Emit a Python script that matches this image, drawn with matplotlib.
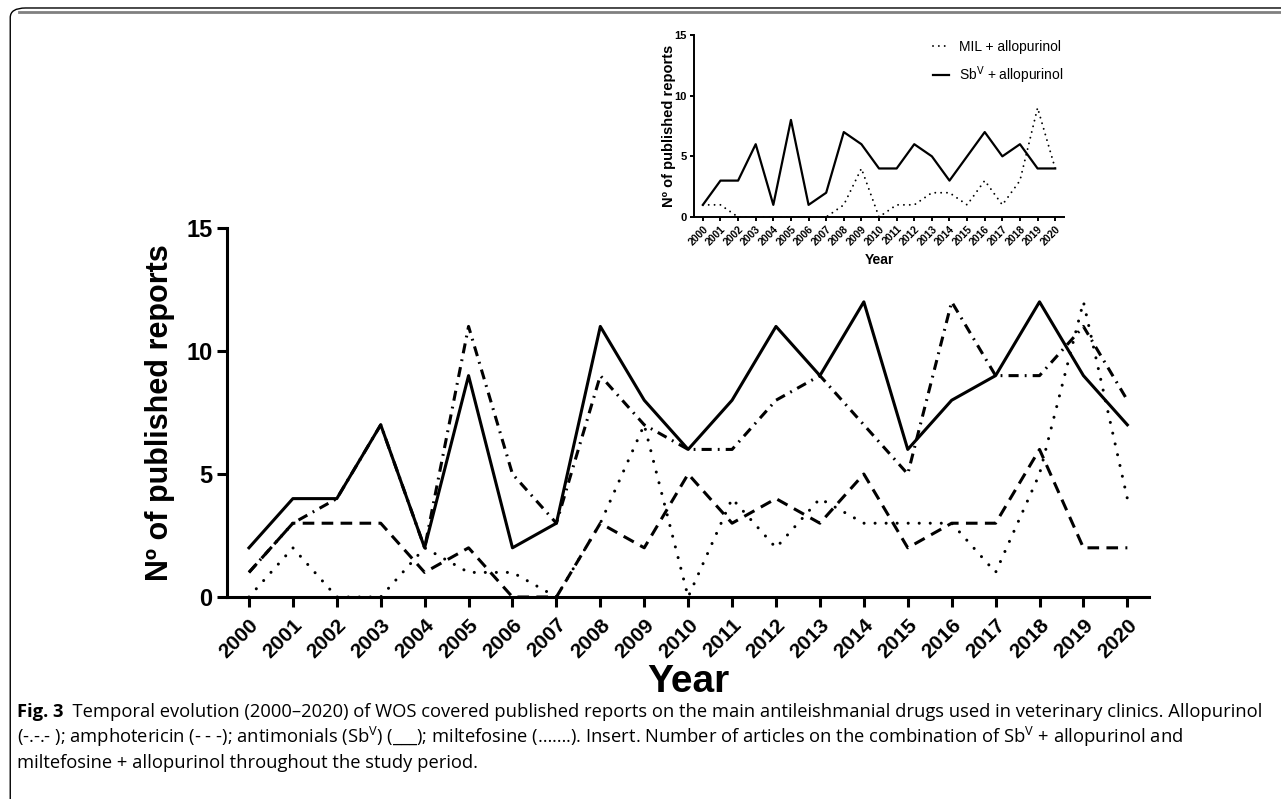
import matplotlib
matplotlib.use("Agg")
from matplotlib import pyplot as plt
from matplotlib.patches import FancyBboxPatch

plt.rcParams['font.family'] = ['Liberation Sans', 'DejaVu Sans']

# main chart data
years = list(range(2000, 2021))
allopurinol = [1, 3, 4, 7, 2, 11, 5, 3, 9, 7, 6, 6, 8, 9, 7, 5, 12, 9, 9, 11, 8]
amphotericin = [1, 3, 3, 3, 1, 2, 0, 0, 3, 2, 5, 3, 4, 3, 5, 2, 3, 3, 6, 2, 2]
antimonials = [2, 4, 4, 7, 2, 9, 2, 3, 11, 8, 6, 8, 11, 9, 12, 6, 8, 9, 12, 9, 7]
miltefosine = [0, 2, 0, 0, 2, 1, 1, 0, 3, 7, 0, 4, 2, 4, 3, 3, 3, 1, 5, 12, 4]

# insert data
mil_allo = [1, 1, 0, 0, 0, 0, 0, 0, 1, 4, 0, 1, 1, 2, 2, 1, 3, 1, 3, 9, 4]
sb_allo = [1, 3, 3, 6, 1, 8, 1, 2, 7, 6, 4, 4, 6, 5, 3, 5, 7, 5, 6, 4, 4]

yticks = [0, 5, 10, 15]


def style_axes(ax, lw, ticklen, fs_x, fs_y):
    ax.spines['top'].set_visible(False)
    ax.spines['right'].set_visible(False)
    ax.spines['left'].set_linewidth(lw)
    ax.spines['bottom'].set_linewidth(lw)
    ax.set_xlim(1999.5, 2020.5)
    ax.set_ylim(0, 15)
    ax.set_xticks(years)
    ax.set_xticklabels([str(y) for y in years], rotation=45, ha='right',
                       rotation_mode='anchor', fontweight='bold', fontsize=fs_x)
    ax.set_yticks(yticks)
    ax.set_yticklabels([str(y) for y in yticks], fontweight='bold', fontsize=fs_y)
    ax.tick_params(direction='out', length=ticklen, width=lw)


fig = plt.figure(figsize=(12.81, 7.99), dpi=100)

# frame of the figure panel
frame = FancyBboxPatch((0.008, -0.05), 1.2, 1.04, boxstyle="round,pad=0,rounding_size=0.012",
                       transform=fig.transFigure, fill=False, edgecolor='black', lw=1.0)
fig.patches.append(frame)
fig.add_artist(plt.Line2D([0.015, 1.0], [0.985, 0.985], transform=fig.transFigure,
                          color='#808080', lw=2.0))

ax = fig.add_axes([0.1772, 0.2528, 0.7200, 0.4618])
ax.plot(years, allopurinol, color='black', lw=2.2, linestyle=(0, (3.3, 2.0, 0.6, 2.0)))
ax.plot(years, amphotericin, color='black', lw=2.2, linestyle=(0, (3.8, 2.4)))
ax.plot(years, antimonials, color='black', lw=2.2, linestyle='-')
ax.plot(years, miltefosine, color='black', lw=2.2, linestyle=(0, (0.01, 3.6)),
        dash_capstyle='round')
style_axes(ax, 2.2, 7, 15, 17)
ax.tick_params(axis='x', pad=6)
ax.set_ylabel('Nº of published reports', fontsize=22, fontweight='bold', labelpad=8)
ax.set_xlabel('Year', fontsize=28, fontweight='bold', labelpad=2)

# insert
ax2 = fig.add_axes([0.5418, 0.7284, 0.2888, 0.2278])
ax2.plot(years, mil_allo, color='black', lw=1.4, linestyle=(0, (0.01, 3.0)),
         dash_capstyle='round', label='MIL + allopurinol')
ax2.plot(years, sb_allo, color='black', lw=1.6, label='Sb$^{\\mathrm{V}}$ + allopurinol')
style_axes(ax2, 1.4, 3, 7.5, 8)
ax2.tick_params(axis='x', pad=2)
ax2.tick_params(axis='y', pad=2)
ax2.set_ylabel('Nº of published reports', fontsize=10.5, fontweight='bold', labelpad=-1)
ax2.set_xlabel('Year', fontsize=10, fontweight='bold', labelpad=4)
ax2.legend(loc='upper left', frameon=False, fontsize=10, handlelength=1.15,
           handletextpad=0.75, borderpad=0, borderaxespad=0,
           bbox_to_anchor=(0.646, 0.975), labelspacing=0.8)

# caption
cfont = ['Open Sans', 'DejaVu Sans']
plt.rcParams['mathtext.fontset'] = 'custom'
plt.rcParams['mathtext.rm'] = 'Open Sans'
csize = 13.2
cap = fig.text(0.013, 0.1026, 'Fig. 3', fontsize=csize, fontweight='bold', va='baseline',
               family=cfont)
ax.annotate('  Temporal evolution (2000–2020) of WOS covered published reports on the main '
            'antileishmanial drugs used in veterinary clinics. Allopurinol',
            xy=(1, 0), xycoords=cap, va='bottom', ha='left', fontsize=csize,
            family=cfont, annotation_clip=False)
fig.text(0.013, 0.070, '(-.-.- ); amphotericin (- - -); antimonials (Sb$^{\\mathrm{V}}$) (___); '
         'miltefosine (…….). Insert. Number of articles on the combination of '
         'Sb$^{\\mathrm{V}}$ + allopurinol and', fontsize=csize, va='baseline', family=cfont)
fig.text(0.013, 0.0388, 'miltefosine + allopurinol throughout the study period.',
         fontsize=csize, va='baseline', family=cfont)

fig.savefig('out.png', dpi=100)
